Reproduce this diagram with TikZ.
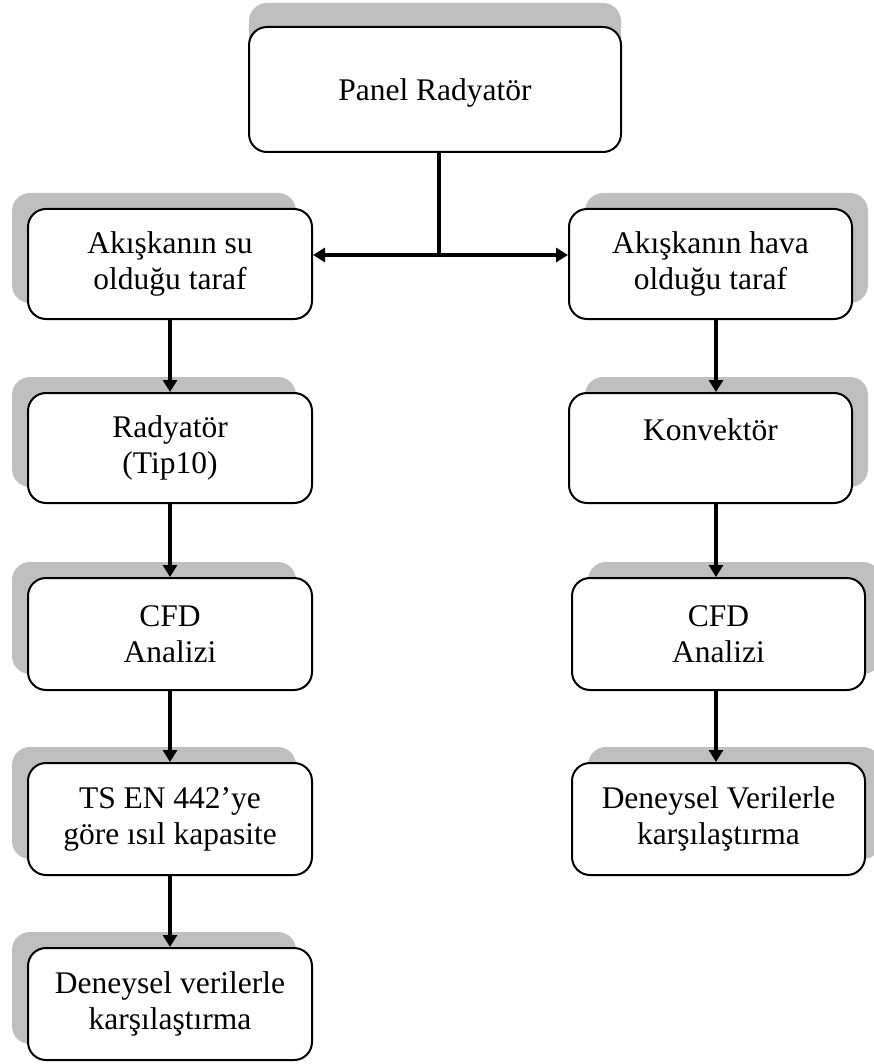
\documentclass[tikz,border=0pt]{standalone}
\usepackage{fontspec}
\setmainfont{Liberation Serif}
\usetikzlibrary{arrows.meta,shadows}
\definecolor{shadowgray}{RGB}{191,191,191}
\tikzset{
  box/.style={draw=black, line width=2pt, rounded corners=18pt, fill=white,
    inner sep=0pt, align=center, font=\fontsize{31.5}{36}\selectfont},
  lbox/.style={box, minimum width=284pt, general shadow={fill=shadowgray, shadow xshift=-16pt, shadow yshift=16pt}},
  rbox/.style={box, general shadow={fill=shadowgray, shadow xshift=16pt, shadow yshift=16pt}},
  tbox/.style={box, general shadow={fill=shadowgray, shadow xshift=0pt, shadow yshift=24pt}},
  conn/.style={line width=4pt},
  arr/.style={line width=4pt, -{Triangle[length=12pt,width=14pt]}},
  darr/.style={line width=4pt, {Triangle[length=12pt,width=14pt]}-{Triangle[length=12pt,width=14pt]}}
}
\begin{document}
\begin{tikzpicture}[x=1pt,y=-1pt]
\useasboundingbox (0,0) rectangle (874,1064);
\node[tbox, minimum width=372pt, minimum height=125pt] (top) at (435,89.5) {};
\node[font=\fontsize{31.5}{36}\selectfont, inner sep=0pt] (toptext) at (435,93) {Panel Radyatör};

\node[lbox, minimum height=110pt] (L1) at (170,264) {Akışkanın su\\olduğu taraf};
\node[lbox, minimum height=110pt] (L2) at (170,448) {Radyatör\\(Tip10)};
\node[lbox, minimum height=112pt] (L3) at (170,634) {CFD\\Analizi};
\node[lbox, minimum height=112pt] (L4) at (170,819) {TS EN 442’ye\\göre ısıl kapasite};
\node[lbox, minimum height=112pt] (L5) at (170,1004) {Deneysel verilerle\\karşılaştırma};

\node[rbox, minimum width=283pt, minimum height=110pt] (R1) at (710.5,264) {Akışkanın hava\\olduğu taraf};
\node[rbox, minimum width=283pt, minimum height=110pt] (R2) at (710.5,448) {Konvektör\\~};
\node[rbox, minimum width=293pt, minimum height=112pt] (R3) at (718.5,634) {CFD\\Analizi};
\node[rbox, minimum width=293pt, minimum height=112pt] (R4) at (718.5,819) {Deneysel Verilerle\\karşılaştırma};

\coordinate (J) at (439,255);
\coordinate (RX) at (716,0);
\draw[conn] (top.south -| J) -- (J);
\draw[darr] (L1.east |- J) -- (R1.west |- J);

\draw[arr] (L1.south) -- (L2.north);
\draw[arr] (L2.south) -- (L3.north);
\draw[arr] (L3.south) -- (L4.north);
\draw[arr] (L4.south) -- (L5.north);

\draw[arr] (R1.south -| RX) -- (R2.north -| RX);
\draw[arr] (R2.south -| RX) -- (R3.north -| RX);
\draw[arr] (R3.south -| RX) -- (R4.north -| RX);
\end{tikzpicture}
\end{document}
